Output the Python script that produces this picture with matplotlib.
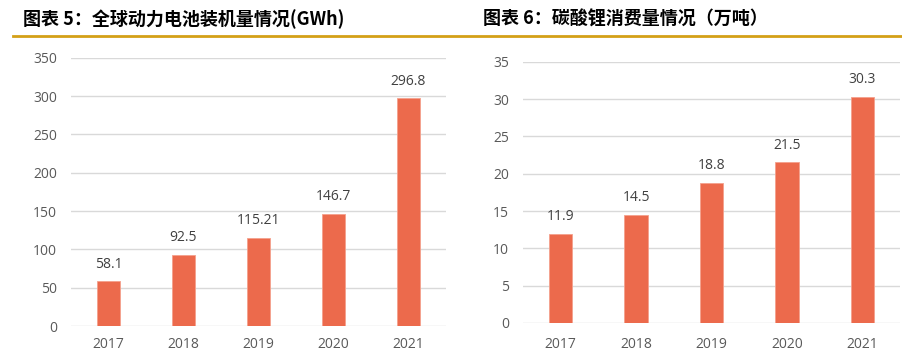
import matplotlib.pyplot as plt
from matplotlib.lines import Line2D

plt.rcParams['font.family'] = ['Open Sans', 'Noto Sans CJK SC', 'DejaVu Sans']

years = ["2017", "2018", "2019", "2020", "2021"]
battery_gwh = [58.1, 92.5, 115.21, 146.7, 296.8]
battery_labels = ["58.1", "92.5", "115.21", "146.7", "296.8"]
lithium_wt = [11.9, 14.5, 18.8, 21.5, 30.3]
lithium_labels = ["11.9", "14.5", "18.8", "21.5", "30.3"]

title_left = "图表 5：全球动力电池装机量情况(GWh)"
title_right = "图表 6：碳酸锂消费量情况（万吨）"

bar_color = "#EC6A4C"
grid_color = "#D9D9D9"
text_color = "#595959"

W, H = 902, 353
fig = plt.figure(figsize=(W / 100, H / 100), dpi=100)


def panel(rect, values, labels, ymax, step, xpad):
    ax = fig.add_axes(rect)
    x = range(len(years))
    ax.bar(x, values, width=0.31, color=bar_color, edgecolor="#F4A08C",
           linewidth=0.6, zorder=3)
    ax.set_xlim(-0.5, len(years) - 0.5)
    ax.set_ylim(0, ymax)
    ax.set_yticks(range(0, ymax + 1, step))
    ax.set_xticks(list(x))
    ax.set_xticklabels(years)
    ax.yaxis.grid(True, color=grid_color, linewidth=1, zorder=0)
    for s in ax.spines.values():
        s.set_visible(False)
    ax.tick_params(axis="both", length=0, labelsize=10, colors=text_color)
    ax.tick_params(axis="y", pad=10)
    ax.tick_params(axis="x", pad=xpad)
    for xi, v, lab in zip(x, values, labels):
        ax.annotate(lab, (xi, v), xytext=(0, 7), textcoords="offset points",
                    ha="center", va="bottom", fontsize=10, color="#404040")
    return ax


panel([71 / W, 1 - 326 / H, 375 / W, 268.3 / H], battery_gwh, battery_labels, 350, 50, 8)
panel([523 / W, 1 - 323 / H, 377 / W, 261.3 / H], lithium_wt, lithium_labels, 35, 5, 10)

# header rule and titles
fig.add_artist(Line2D([13 / W, 1.0], [1 - 35.7 / H, 1 - 35.7 / H],
                      color="#D4A017", linewidth=2))
fig.text(23 / W, 1 - 19 / H, title_left, fontsize=13, fontweight="bold",
         family=["Noto Sans CJK SC", "DejaVu Sans"], va="center", ha="left")
fig.text(483 / W, 1 - 19 / H, title_right, fontsize=13, fontweight="bold",
         family=["Noto Sans CJK SC", "DejaVu Sans"], va="center", ha="left")

fig.savefig("out.png", dpi=100)
